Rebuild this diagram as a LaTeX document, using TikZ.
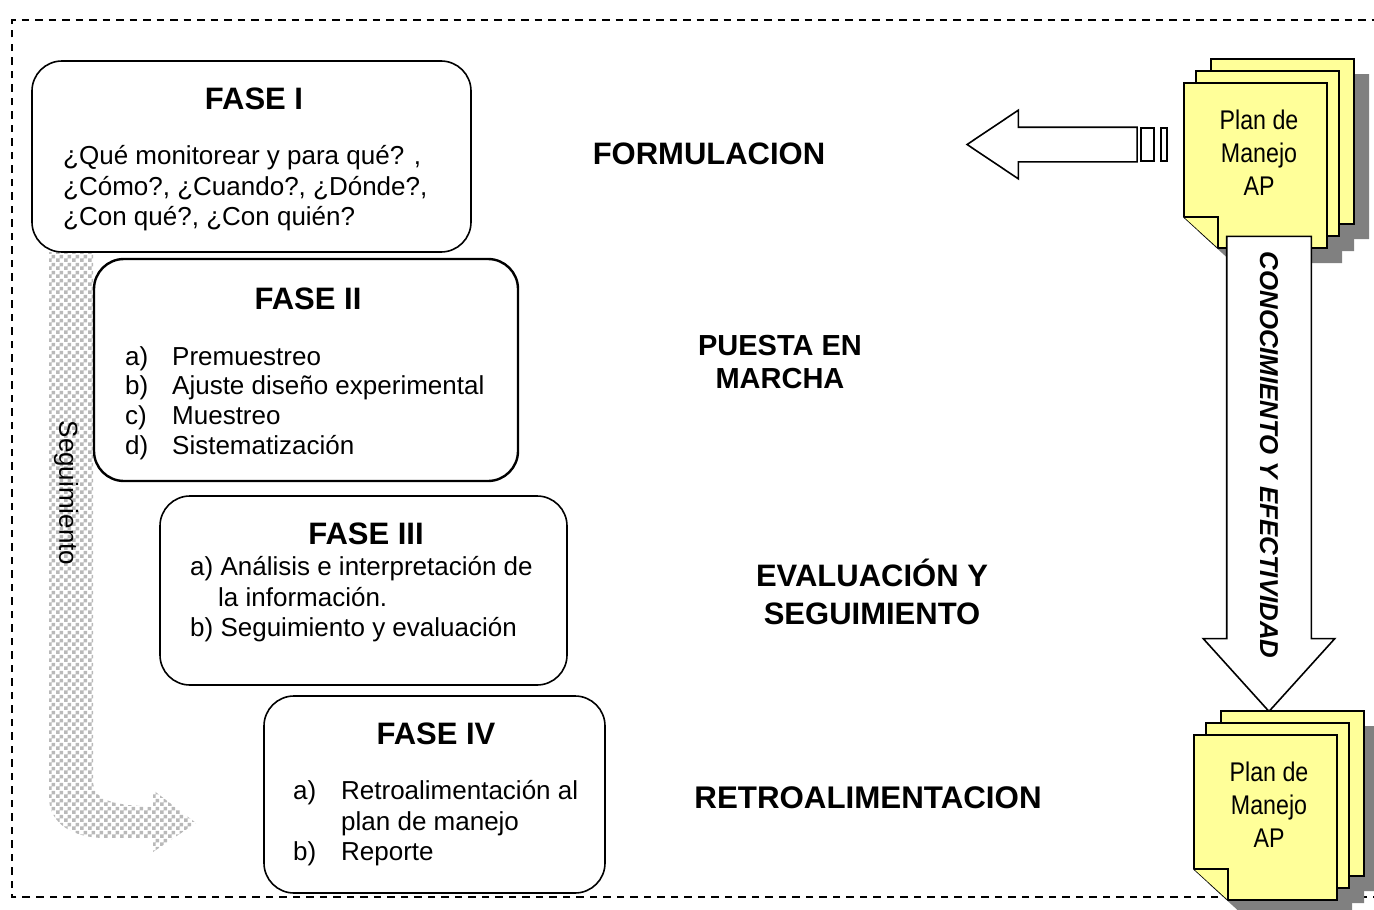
\documentclass[tikz,border=0pt]{standalone}
\usepackage{fontspec}
\setmainfont{Liberation Sans}
\newfontfamily\estrecha[FakeStretch=0.86]{Liberation Sans}
\usepackage{xcolor}
\usetikzlibrary{shapes.arrows, positioning, patterns}
\definecolor{hojacolor}{RGB}{255, 255, 153}
\definecolor{sombracolor}{RGB}{128, 128, 128}
\definecolor{puntocolor}{RGB}{185, 185, 185}

\pgfdeclarepatternformonly{tablero}{\pgfqpoint{0pt}{0pt}}{\pgfqpoint{8pt}{8pt}}{\pgfqpoint{8pt}{8pt}}{
    \pgfpathrectangle{\pgfqpoint{0pt}{0pt}}{\pgfqpoint{4pt}{4pt}}
    \pgfpathrectangle{\pgfqpoint{4pt}{4pt}}{\pgfqpoint{4pt}{4pt}}
    \pgfusepath{fill}
}

% pila de tres hojas con sombra
\newcommand{\pilahojas}[3]{
    \begin{scope}[shift={(#2,#3)}]
        \foreach \dx/\dy in {27/-24, 12/-12, 0/0} {
            \fill[sombracolor, shift={(\dx+15,\dy+15)}] (0,0) -- (143,0) -- (143,165) -- (34,165) -- (0,134) -- cycle;
        }
        \foreach \dx/\dy in {27/-24, 12/-12, 0/0} {
            \draw[hoja, shift={(\dx,\dy)}] (0,0) -- (143,0) -- (143,165) -- (34,165) -- (0,134) -- cycle;
        }
        \draw[hoja] (0,134) -- (34,134) -- (34,165);
        \node[plan] (#1) at (75,70) {Plan de\\Manejo\\AP};
    \end{scope}
}
\newcommand{\itemfase}[2]{\makebox[#1pt][l]{#2}}

\begin{document}
\begin{tikzpicture}[
    x=1pt, y=-1pt,
    fase/.style={draw, fill=white, rounded corners=30pt, line width=1.6pt, outer sep=0pt, inner sep=0pt},
    titulo/.style={font=\fontsize{31}{36}\selectfont\bfseries, inner sep=0pt},
    cuerpo/.style={font=\fontsize{26}{30.5}\selectfont, align=left, anchor=west, inner sep=0pt},
    etapa/.style={align=center, inner sep=0pt},
    hoja/.style={draw, fill=hojacolor, line width=1.6pt, line join=miter},
    plan/.style={font=\estrecha\fontsize{27}{33}\selectfont, align=center, inner sep=0pt},
    bloque/.style={draw, fill=white, single arrow, line width=1.6pt, outer sep=0pt, inner xsep=0pt},
    cola/.style={draw, line width=1.4pt, minimum height=33pt, inner sep=0pt, outer sep=0pt},
    marco/.style={line width=1.4pt, dash pattern=on 7.5pt off 6pt}
]
    \useasboundingbox (0,0) rectangle (1374,910);

    % Marco
    \draw[marco] (1380,897) -- (12,897) -- (12,20) -- (1380,20);

    % Seguimiento
    \fill[pattern=tablero, pattern color=puntocolor] (49,252) -- (49,797)
        .. controls (49,825) and (75,838) .. (105,838) -- (153,838) -- (153,852)
        -- (196,823) -- (153,790) -- (153,807) -- (128,805)
        .. controls (106,802) and (93,797) .. (93,780) -- (93,252) -- cycle;
    \node[rotate=-90, font=\fontsize{26}{30}\selectfont, inner sep=0pt] (seguimiento) at (66,493) {Seguimiento};

    % Fases
    \node[fase, minimum width=439pt, minimum height=191pt] (faseI) at (251.5,156.5) {};
    \node[fase, line width=2.4pt, minimum width=424pt, minimum height=222pt] (faseII) at (306,370) {};
    \node[fase, minimum width=407pt, minimum height=189pt] (faseIII) at (363.5,590.5) {};
    \node[fase, minimum width=341pt, minimum height=197pt] (faseIV) at (434.5,794.5) {};

    \node[titulo] (tituloI) at (254,99) {FASE I};
    \node[titulo] (tituloII) at (308,299) {FASE II};
    \node[titulo] (tituloIII) at (366,534) {FASE III};
    \node[titulo] (tituloIV) at (436,734) {FASE IV};

    \node[cuerpo] (textoI) at (63,188.5) {¿Qué monitorear y para qué? ,\\¿Cómo?, ¿Cuando?, ¿Dónde?,\\¿Con qué?, ¿Con quién?};
    \node[cuerpo, font=\fontsize{26}{29.7}\selectfont] (textoII) at (125,403) {\itemfase{47}{a)}Premuestreo\\\itemfase{47}{b)}Ajuste diseño experimental\\\itemfase{47}{c)}Muestreo\\\itemfase{47}{d)}Sistematización};
    \node[cuerpo] (textoIII) at (190,599.5) {a) Análisis e interpretación de\\\hspace*{28pt}la información.\\b) Seguimiento y evaluación};
    \node[cuerpo] (textoIV) at (293,823.5) {\itemfase{48}{a)}Retroalimentación al\\\itemfase{48}{}plan de manejo\\\itemfase{48}{b)}Reporte};

    % Etapas
    \node[etapa, font=\fontsize{31}{38}\selectfont\bfseries] (formulacion) at (709,154) {FORMULACION};
    \node[etapa, font=\fontsize{29}{33}\selectfont\bfseries] (puesta) at (780,362) {PUESTA EN\\MARCHA};
    \node[etapa, font=\fontsize{31}{38}\selectfont\bfseries] (evaluacion) at (872,592) {EVALUACIÓN Y\\SEGUIMIENTO};
    \node[etapa, font=\fontsize{31.3}{38}\selectfont\bfseries] (retro) at (868,798) {RETROALIMENTACION};

    % Hojas de arriba y flechas
    \pilahojas{planA}{1184}{83}

    \node[bloque, rotate=180, inner ysep=16.5pt, minimum height=170pt, single arrow head extend=17pt, single arrow tip angle=67.6] (flechaA) at (1065,144.5) {};
    \node[cola, minimum width=13pt, right=4pt of flechaA.tail] (colaA) {};
    \node[cola, minimum width=6pt, right=7pt of colaA] (colaB) {};

    \node[bloque, rotate=-90, inner ysep=41.5pt, minimum height=475pt, single arrow head extend=23.5pt, single arrow tip angle=84.2] (flechaB) at (1269,450.5) {};
    \node[rotate=-90, font=\fontsize{25.8}{30}\selectfont\bfseries\itshape, inner sep=0pt] (conocimiento) at (1269,455) {CONOCIMIENTO Y EFECTIVIDAD};

    \pilahojas{planB}{1194}{735}
\end{tikzpicture}
\end{document}
